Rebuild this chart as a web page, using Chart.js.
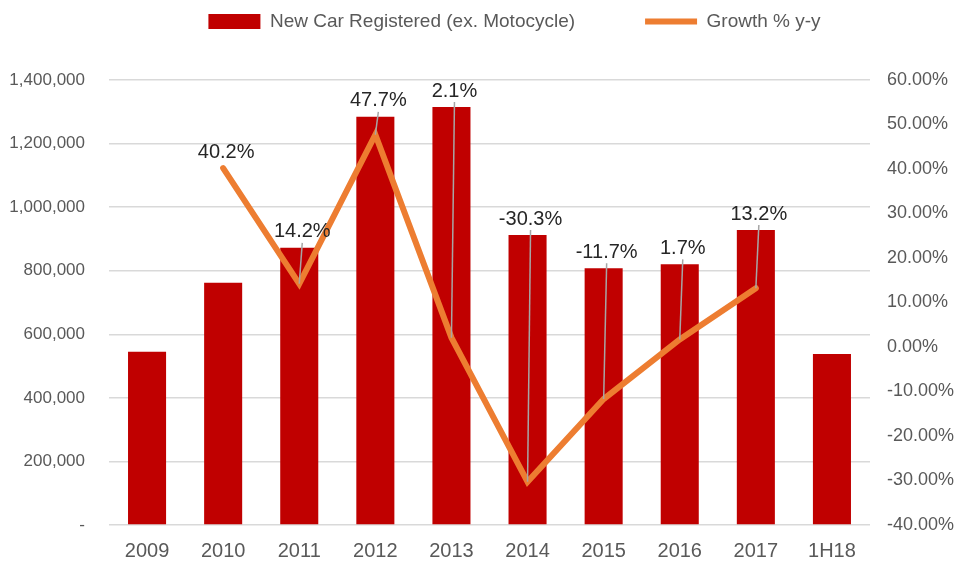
<!DOCTYPE html>
<html>
<head>
<meta charset="utf-8">
<script src="https://cdn.jsdelivr.net/npm/chart.js@4"></script>
<style>
  html, body { margin: 0; padding: 0; background: #fff; }
  #wrap { width: 957px; height: 565px; }
</style>
</head>
<body>
<div id="wrap"><canvas id="chart"></canvas></div>
<script>
const years = ['2009', '2010', '2011', '2012', '2013', '2014', '2015', '2016', '2017', '1H18'];
const registered = [545000, 762000, 872000, 1284000, 1315000, 912000, 808000, 820000, 928000, 538000];
const growth = [null, 40.2, 14.2, 47.7, 2.1, -30.3, -11.7, 1.7, 13.2, null];

const FONT = '"Liberation Sans", Arial, sans-serif';

// labels above bars, with a grey leader line down to the point when needed
const growthLabels = {
  id: 'growthLabels',
  afterDatasetsDraw(chart) {
    const ctx = chart.ctx;
    const bars = chart.getDatasetMeta(0).data;
    const pts = chart.getDatasetMeta(1).data;
    ctx.save();
    growth.forEach((v, i) => {
      if (v === null) return;
      const p = pts[i];
      const top = Math.min(bars[i].y, p.y);
      const ly = top - 16;
      if (p.y > top + 6) {
        ctx.strokeStyle = '#a6a6a6';
        ctx.lineWidth = 1.5;
        ctx.beginPath();
        ctx.moveTo(p.x + 3, ly + 11);
        ctx.lineTo(p.x, p.y);
        ctx.stroke();
      }
      ctx.font = '20px ' + FONT;
      ctx.fillStyle = '#262626';
      ctx.textAlign = 'center';
      ctx.textBaseline = 'middle';
      ctx.fillText(v.toFixed(1) + '%', p.x + 3, ly);
    });
    ctx.restore();
  }
};

// legend: fixed band height, centred over the plot area, items sit near the top
const legendShift = {
  id: 'legendShift',
  beforeInit(chart) {
    const fit = chart.legend.fit;
    chart.legend.fit = function () {
      fit.call(this);
      this.height = 80;
    };
  },
  afterLayout(chart) {
    const lg = chart.legend;
    lg.left += 36;
    lg.right += 36;
    lg.top = 22 - 70 - 10;
  }
};

new Chart(document.getElementById('chart'), {
  data: {
    labels: years,
    datasets: [
      {
        type: 'bar',
        label: 'New Car Registered (ex. Motocycle)',
        data: registered,
        backgroundColor: '#c00000',
        categoryPercentage: 1,
        barPercentage: 0.5,
        yAxisID: 'y',
        order: 2
      },
      {
        type: 'line',
        label: 'Growth % y-y',
        data: growth,
        borderColor: '#ed7d31',
        backgroundColor: '#ed7d31',
        borderWidth: 6,
        borderCapStyle: 'round',
        borderJoinStyle: 'miter',
        pointRadius: 0,
        spanGaps: false,
        yAxisID: 'y1',
        order: 1
      }
    ]
  },
  options: {
    responsive: true,
    maintainAspectRatio: false,
    animation: false,
    layout: { padding: 0 },
    plugins: {
      tooltip: { enabled: false },
      legend: {
        position: 'top',
        labels: {
          usePointStyle: true,
          pointStyleWidth: 52,
          boxHeight: 15,
          padding: 70,
          color: '#595959',
          font: { family: FONT, size: 19 },
          generateLabels(chart) {
            return chart.data.datasets.map((ds, i) => ({
              text: ds.label,
              fillStyle: ds.backgroundColor,
              strokeStyle: ds.type === 'line' ? ds.borderColor : ds.backgroundColor,
              lineWidth: ds.type === 'line' ? 6 : 0,
              pointStyle: ds.type === 'line' ? 'line' : 'rect',
              fontColor: '#595959',
              datasetIndex: i
            }));
          }
        }
      }
    },
    scales: {
      x: {
        grid: { display: false },
        border: { display: false },
        afterFit(s) { s.height = 40; },
        ticks: { color: '#595959', font: { family: FONT, size: 20 }, padding: 6 }
      },
      y: {
        position: 'left',
        min: 0,
        max: 1400000,
        grid: { color: '#d9d9d9', lineWidth: 1.5, drawTicks: false },
        border: { display: false },
        afterFit(s) { s.width = 109; },
        ticks: {
          stepSize: 200000,
          padding: 24,
          color: '#595959',
          font: { family: FONT, size: 17 },
          callback: v => v === 0 ? '-' : v.toLocaleString('en-US')
        }
      },
      y1: {
        position: 'right',
        min: -40,
        max: 60,
        grid: { display: false },
        border: { display: false },
        afterFit(s) { s.width = 87; },
        ticks: {
          stepSize: 10,
          padding: 9,
          color: '#595959',
          font: { family: FONT, size: 18 },
          callback: v => v.toFixed(2) + '%'
        }
      }
    }
  },
  plugins: [growthLabels, legendShift]
});
</script>
</body>
</html>
